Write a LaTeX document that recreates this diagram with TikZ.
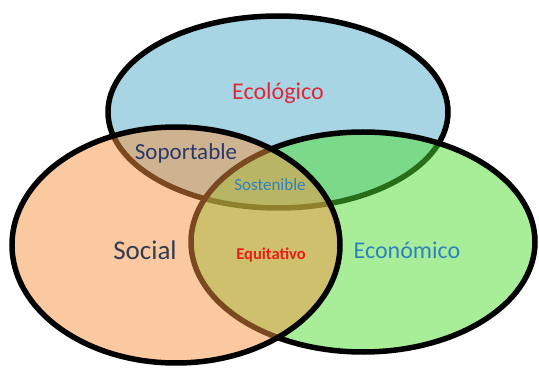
\documentclass[tikz,border=0pt]{standalone}
\usepackage{fontspec}
\setmainfont{Carlito}
\definecolor{ecoblue}{RGB}{167,213,227}
\definecolor{ecogreen}{RGB}{81,221,51}
\definecolor{socorange}{RGB}{245,147,65}
\definecolor{txtred}{RGB}{222,40,60}
\definecolor{txtblue}{RGB}{46,130,190}
\definecolor{txtnavy}{RGB}{45,55,105}
\definecolor{txtgrey}{RGB}{50,60,80}
\definecolor{txtred2}{RGB}{232,30,25}
\tikzset{
  circ/.style={draw=black, line width=5.5pt, fill opacity=0.5},
  lbl/.style={inner sep=0pt}
}
\begin{document}
\begin{tikzpicture}[x=1pt,y=-1pt]
\useasboundingbox (0,0) rectangle (539,369);
\draw[circ, fill=ecoblue, fill opacity=1] (278,112) ellipse [x radius=170, y radius=96];
\draw[circ, fill=ecogreen] (363,242) ellipse [x radius=172, y radius=110];
\draw[circ, fill=socorange] (176,245) ellipse [x radius=164, y radius=118];
\node[lbl, text=txtred, font=\fontsize{24}{28}\selectfont] (eco) at (278,93) {Ecológico};
\node[lbl, text=txtgrey, font=\fontsize{27}{32}\selectfont] (soc) at (145,250) {Social};
\node[lbl, text=txtblue, font=\fontsize{24}{28}\selectfont] (econ) at (407,250) {Económico};
\node[lbl, text=txtnavy, font=\fontsize{23}{27}\selectfont] (sop) at (186,153) {Soportable};
\node[lbl, text=txtblue, font=\fontsize{17}{20}\selectfont] (sos) at (270,185) {Sostenible};
\node[lbl, text=txtred2, font=\bfseries\fontsize{16.5}{20}\selectfont] (equ) at (271,255) {Equitativo};
\end{tikzpicture}
\end{document}
